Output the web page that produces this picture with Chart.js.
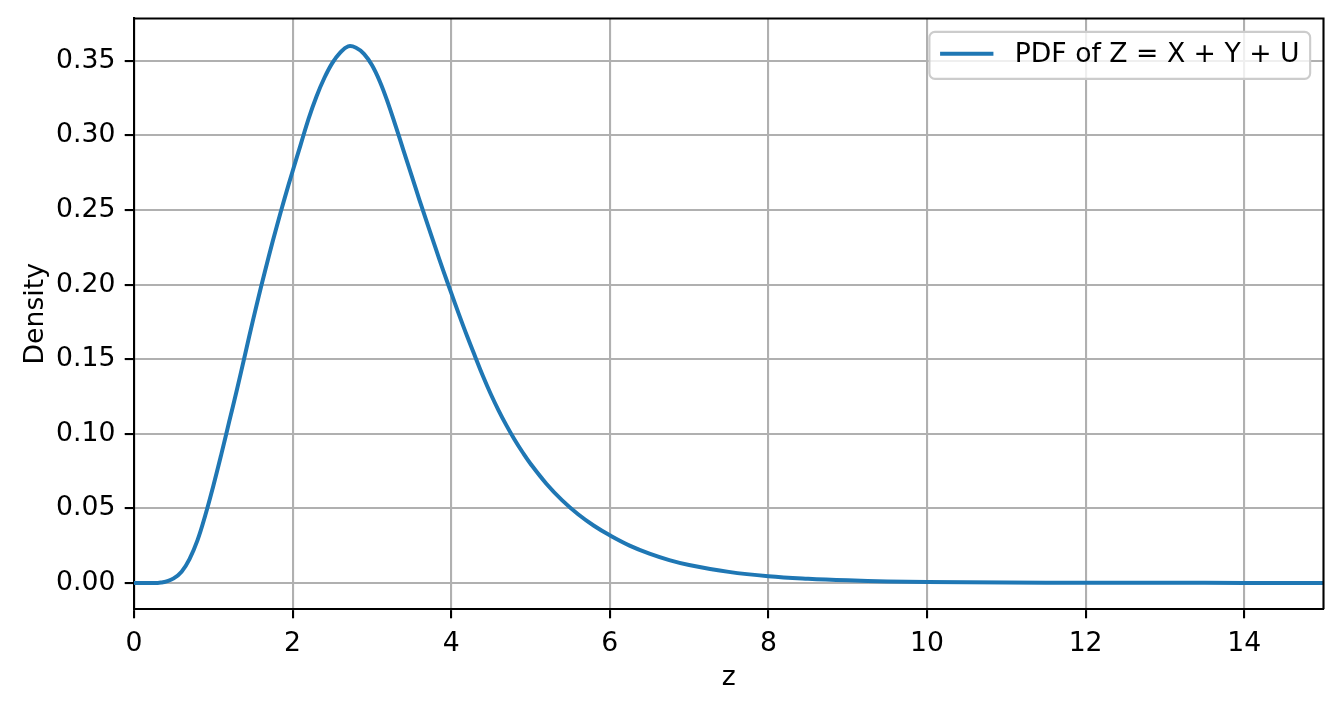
<!DOCTYPE html>
<html>
<head>
    <title>PDF of Z</title>
    <script src="https://cdn.jsdelivr.net/npm/chart.js"></script>
    <style>
        body { margin: 0; background: #fff; }
        #wrap { width: 1343px; height: 711px; }
    </style>
</head>
<body>
    <div id="wrap">
        <canvas id="pdfChart" width="1343" height="711"></canvas>
    </div>

    <script>
        // values
        const zValues = [0, 0.3, 0.35, 0.4, 0.5, 0.6, 0.7, 0.8, 0.9, 1.0, 1.1, 1.2, 1.3, 1.4, 1.5, 1.6, 1.7, 1.8, 1.9, 2.0,
                         2.1, 2.2, 2.3, 2.4, 2.5, 2.6, 2.7, 2.8, 2.9, 3.0, 3.1, 3.2, 3.3, 3.4, 3.5, 3.6, 3.7, 3.8, 3.9, 4.0,
                         4.1, 4.2, 4.3, 4.4, 4.5, 4.6, 4.7, 4.8, 4.9, 5.0, 5.2, 5.4, 5.6, 5.8, 6.0, 6.25, 6.5, 6.75, 7.0,
                         7.5, 8, 8.5, 9, 9.5, 10, 11, 12, 13, 14, 15];
        const density = [0, 0, 0.0003, 0.0008, 0.003, 0.0075, 0.016, 0.0285, 0.0455, 0.065, 0.086, 0.108, 0.130, 0.153, 0.176, 0.198, 0.219, 0.239, 0.258, 0.276,
                         0.2935, 0.311, 0.326, 0.3385, 0.3485, 0.3555, 0.3597, 0.3588, 0.3547, 0.3472, 0.3362, 0.3222, 0.3062, 0.2897, 0.2732, 0.2567, 0.2407, 0.2249, 0.2094, 0.1944,
                         0.1797, 0.1655, 0.152, 0.1387, 0.1265, 0.1154, 0.1053, 0.096, 0.0876, 0.0799, 0.0665, 0.0553, 0.046, 0.0383, 0.0319, 0.025, 0.0196, 0.0153, 0.012,
                         0.0074, 0.0045, 0.0028, 0.0017, 0.001, 0.0006, 0.0002, 0.00008, 0.00003, 0.00001, 0];
        const xTicks = [0, 2, 4, 6, 8, 10, 12, 14];
        const yTicks = [0, 0.05, 0.10, 0.15, 0.20, 0.25, 0.30, 0.35];
        const seriesLabel = 'PDF of Z = X + Y + U';

        const FS = 26.67; // 10pt at 192 dpi
        Chart.defaults.font.family = '"DejaVu Sans", sans-serif';
        Chart.defaults.font.size = FS;
        Chart.defaults.color = '#000';

        function noPad(scale) {
            scale.paddingTop = 0;
            scale.paddingBottom = 0;
            scale.paddingLeft = 0;
            scale.paddingRight = 0;
        }

        // top/right spines and the matplotlib-like legend box
        const framePlugin = {
            id: 'frame',
            afterDraw(chart) {
                const ctx = chart.ctx;
                const a = chart.chartArea;
                ctx.save();
                ctx.strokeStyle = '#000';
                ctx.lineWidth = 2.1;
                ctx.beginPath();
                ctx.moveTo(a.left, a.top);
                ctx.lineTo(a.right, a.top);
                ctx.lineTo(a.right, a.bottom);
                ctx.stroke();

                // legend
                ctx.font = FS + 'px "DejaVu Sans"';
                const textW = ctx.measureText(seriesLabel).width;
                const pad = 0.4 * FS, handleLen = 2 * FS, textPad = 0.8 * FS, axPad = 0.5 * FS;
                const boxW = pad + handleLen + textPad + textW + pad;
                const boxH = 47;
                const bx = a.right - axPad - boxW;
                const by = a.top + axPad;
                ctx.beginPath();
                ctx.roundRect(bx, by, boxW, boxH, 5.5);
                ctx.fillStyle = 'rgba(255,255,255,0.8)';
                ctx.fill();
                ctx.strokeStyle = '#cccccc';
                ctx.lineWidth = 2.1;
                ctx.stroke();

                const cy = by + boxH / 2;
                ctx.beginPath();
                ctx.moveTo(bx + pad, cy - 1.5);
                ctx.lineTo(bx + pad + handleLen, cy - 1.5);
                ctx.strokeStyle = '#1f77b4';
                ctx.lineWidth = 4;
                ctx.stroke();

                ctx.fillStyle = '#000';
                ctx.textBaseline = 'middle';
                ctx.textAlign = 'left';
                ctx.fillText(seriesLabel, bx + pad + handleLen + textPad, cy);
                ctx.restore();
            }
        };

        const ctx = document.getElementById('pdfChart').getContext('2d');
        new Chart(ctx, {
            type: 'line',
            data: {
                datasets: [{
                    label: seriesLabel,
                    data: zValues.map((z, i) => ({ x: z, y: density[i] })),
                    borderColor: '#1f77b4',
                    borderWidth: 4,
                    pointRadius: 0,
                    tension: 0.4,
                    fill: false
                }]
            },
            options: {
                responsive: false,
                animation: false,
                layout: {
                    padding: { top: 18.5, right: 19.5, left: 0, bottom: 0 }
                },
                plugins: {
                    legend: { display: false },
                    tooltip: { enabled: false }
                },
                scales: {
                    x: {
                        type: 'linear',
                        min: 0,
                        max: 15,
                        afterBuildTicks: scale => { scale.ticks = xTicks.map(v => ({ value: v })); },
                        afterFit: scale => { scale.height = 102; noPad(scale); },
                        ticks: {
                            padding: 9.3,
                            maxRotation: 0,
                            callback: v => String(v)
                        },
                        grid: {
                            color: '#b0b0b0',
                            lineWidth: 2.1,
                            tickColor: '#000',
                            tickLength: 9.3
                        },
                        border: { color: '#000', width: 2.1 },
                        title: {
                            display: true,
                            text: 'z',
                            padding: { top: 0, bottom: 17 }
                        }
                    },
                    y: {
                        min: -0.0175,
                        max: 0.3784,
                        afterBuildTicks: scale => { scale.ticks = yTicks.map(v => ({ value: v })); },
                        afterFit: scale => { scale.width = 134; noPad(scale); },
                        ticks: {
                            padding: 9.3,
                            callback: v => v.toFixed(2)
                        },
                        grid: {
                            color: '#b0b0b0',
                            lineWidth: 2.1,
                            tickColor: '#000',
                            tickLength: 9.3
                        },
                        border: { color: '#000', width: 2.1 },
                        title: {
                            display: true,
                            text: 'Density',
                            padding: { top: 20, bottom: 0 }
                        }
                    }
                }
            },
            plugins: [framePlugin]
        });
    </script>
</body>
</html>
